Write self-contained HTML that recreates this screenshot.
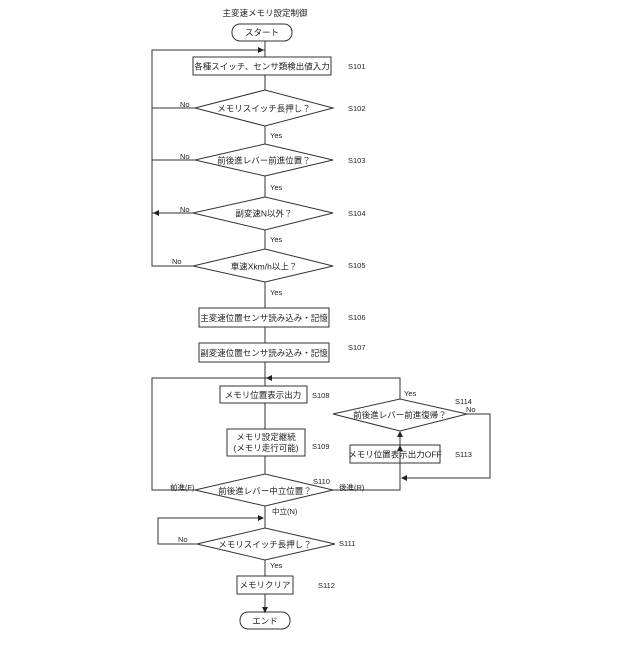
<!DOCTYPE html>
<html><head><meta charset="utf-8"><style>
body{margin:0;background:#fff}
svg text{font-family:"Liberation Sans","Noto Sans CJK JP",sans-serif;fill:#222}
</style></head><body>
<svg width="640" height="640" viewBox="0 0 640 640" xmlns="http://www.w3.org/2000/svg">
<defs><marker id="a" markerWidth="6" markerHeight="6" refX="5" refY="3" orient="auto"><path d="M0,0L6,3L0,6z" fill="#222"/></marker></defs>
<g stroke="#333" stroke-width="1" fill="none">
<rect x="232" y="24" width="60" height="17" rx="8"/>
<rect x="193" y="57" width="138" height="18"/>
<polygon points="195,108 265,90 333,108 265,126"/>
<polygon points="195,160 265,144 333,160 265,176"/>
<polygon points="193,213 265,197 333,213 265,230"/>
<polygon points="193,266 265,249 333,266 265,282"/>
<rect x="199" y="308" width="130" height="19"/>
<rect x="199" y="343" width="130" height="19"/>
<rect x="220" y="386" width="87" height="17"/>
<rect x="227" y="429" width="78" height="27"/>
<polygon points="195,490 265,474 333,490 265,506"/>
<polygon points="333,414 400,399 467,414 400,431"/>
<rect x="350" y="445" width="90" height="18"/>
<polygon points="197,544 265,528 335,544 265,560"/>
<rect x="237" y="576" width="56" height="18"/>
<rect x="240" y="612" width="50" height="17" rx="8"/>
<!-- main axis -->
<path d="M265,41V57M265,75V90M265,126V144M265,176V197M265,230V249M265,282V308M265,327V343M265,362V386M265,403V429M265,456V474M265,506V528M265,560V576M265,594V612" marker-end="url(#a)"/>
<!-- loop left -->
<path d="M195,108H152M195,160H152M193,213H152M193,266H152V50H265"/>
<path d="M152,50H263" marker-end="url(#a)"/>
<path d="M152,108H155M152,160H155M152,213H155" />
<path d="M170,108H154M170,160H154M170,213H154" marker-end="url(#a)"/>
<!-- S110 loops -->
<path d="M195,490H152V378H400V399"/>
<path d="M300,378H267" marker-end="url(#a)"/>
<path d="M333,490H400V463"/>
<path d="M400,463V446" marker-end="url(#a)"/>
<path d="M400,445V432" marker-end="url(#a)"/>
<path d="M467,414H490V478H402" marker-end="url(#a)"/>
<!-- S111 loop -->
<path d="M197,544H158V518H263" marker-end="url(#a)"/>
</g>
<g font-size="8.5">
<text x="265" y="16" text-anchor="middle">主変速メモリ設定制御</text>
<text x="262" y="35.5" text-anchor="middle">スタート</text>
<text x="262" y="69.5" text-anchor="middle">各種スイッチ、センサ類検出値入力</text>
<text x="264" y="111.5" text-anchor="middle">メモリスイッチ長押し？</text>
<text x="264" y="163.5" text-anchor="middle">前後進レバー前進位置？</text>
<text x="264" y="216.5" text-anchor="middle">副変速N以外？</text>
<text x="264" y="269.5" text-anchor="middle">車速Xkm/h以上？</text>
<text x="264" y="321" text-anchor="middle">主変速位置センサ読み込み・記憶</text>
<text x="264" y="356" text-anchor="middle">副変速位置センサ読み込み・記憶</text>
<text x="263" y="398" text-anchor="middle">メモリ位置表示出力</text>
<text x="266" y="440" text-anchor="middle">メモリ設定継続</text>
<text x="266" y="451" text-anchor="middle">(メモリ走行可能)</text>
<text x="265" y="494" text-anchor="middle">前後進レバー中立位置？</text>
<text x="400" y="418" text-anchor="middle">前後進レバー前進復帰？</text>
<text x="395" y="457.5" text-anchor="middle">メモリ位置表示出力OFF</text>
<text x="265" y="547.5" text-anchor="middle">メモリスイッチ長押し？</text>
<text x="265" y="588" text-anchor="middle">メモリクリア</text>
<text x="265" y="624" text-anchor="middle">エンド</text>
</g>
<g font-size="7.5">
<text x="348" y="69">S101</text><text x="348" y="111">S102</text><text x="348" y="163">S103</text>
<text x="348" y="216">S104</text><text x="348" y="268">S105</text><text x="348" y="320">S106</text>
<text x="348" y="350">S107</text><text x="312" y="398">S108</text><text x="312" y="449">S109</text>
<text x="313" y="484">S110</text><text x="455" y="404">S114</text><text x="455" y="457">S113</text>
<text x="339" y="546">S111</text><text x="318" y="588">S112</text>
<text x="180" y="107">No</text><text x="180" y="159">No</text><text x="180" y="212">No</text><text x="172" y="264">No</text>
<text x="270" y="138">Yes</text><text x="270" y="190">Yes</text><text x="270" y="242">Yes</text><text x="270" y="295">Yes</text>
<text x="404" y="396">Yes</text><text x="466" y="412">No</text>
<text x="170" y="490">前進(F)</text><text x="339" y="490">後進(R)</text>
<text x="272" y="514">中立(N)</text>
<text x="178" y="542">No</text><text x="270" y="568">Yes</text>
</g>
</svg>
</body></html>
